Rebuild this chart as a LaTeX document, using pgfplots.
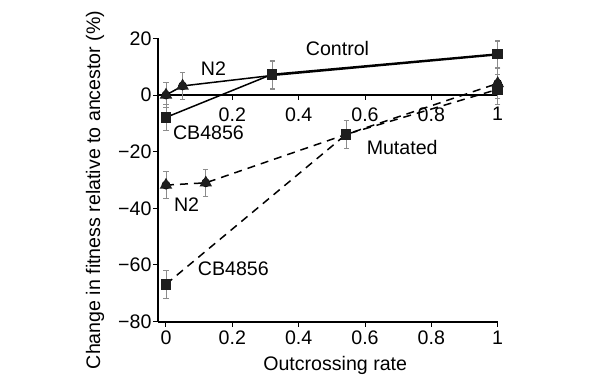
\documentclass[border=0pt]{standalone}
\usepackage{fontspec}
\setmainfont{Liberation Sans}
\usepackage{pgfplots}
\pgfplotsset{compat=1.18}
\definecolor{mk}{HTML}{1E1E1E}
\definecolor{eb}{HTML}{8C8C8C}
\begin{document}
\fontsize{9.8}{11}\selectfont
\begin{tikzpicture}
\useasboundingbox (-83pt,-142.5pt) rectangle (217pt,47.5pt);
\begin{axis}[
  at={(0,0)}, anchor=origin,
  x=165.85pt, y=1.4165pt,
  xmin=-0.024, xmax=1, ymin=-80, ymax=20,
  axis x line=bottom, axis y line=left,
  axis line style={-, line width=1pt},
  tick align=outside,
  xtick={0,0.2,0.4,0.6,0.8,1},
  xticklabels={0,0.2,0.4,0.6,0.8,1},
  ytick={-80,-60,-40,-20,0,20},
  yticklabels={−80,−60,−40,−20,0,20},
  major tick length=2.5pt,
  tick style={line width=0.5pt, black},
  tick label style={font=\fontsize{9.8}{11}\selectfont},
  yticklabel style={inner sep=0.6pt},
  xticklabel style={inner sep=2pt},
  clip=false,
  error bars/error bar style={eb, line width=0.4pt},
  error bars/error mark options={rotate=90, eb, mark size=1.3pt, line width=0.4pt},
]
% zero line with ticks
\draw[line width=1pt] (axis cs:-0.024,0) -- (axis cs:1,0);
\foreach \t in {0.2,0.4,0.6,0.8,1}{
  \edef\tmp{\noexpand\draw[line width=0.5pt] (axis cs:\t,0) -- ([yshift=-2.5pt]axis cs:\t,0);
  \noexpand\node[anchor=north, inner sep=0pt] at ([yshift=-6pt]axis cs:\t,0) {\t};}
  \tmp
}
% error bars
\addplot[only marks, mark=none, forget plot, error bars/.cd, y dir=both, y explicit]
  table[x=x, y=y, y error=e] {
x y e
0 0 4.5
0.05 3.2 4.7
0.32 6.9 4.9
1 14.2 4.7
0 -7.9 4.5
0.32 7.3 4.9
1 14.5 4.7
0 -31.8 4.8
0.12 -31.0 4.8
0.543 -13.9 4.8
1 4.1 5.2
0 -66.8 5
1 2.0 5.2
};
% Control N2
\addplot[black, line width=0.75pt, mark=triangle*, mark size=2.9pt, mark indices={1,2},
  mark options={fill=mk, draw=mk, solid}] table {
0 0
0.05 3.2
0.32 6.9
1 14.2
};
% Control CB4856
\addplot[black, line width=0.75pt, mark=square*, mark size=2.3pt,
  mark options={fill=mk, draw=mk, solid}] table {
0 -7.9
0.32 7.3
1 14.5
};
% Mutated N2
\addplot[black, line width=0.75pt, dash pattern=on 4pt off 3pt, mark=triangle*, mark size=2.9pt, mark indices={1,2,4},
  mark options={fill=mk, draw=mk, solid}] table {
0 -31.8
0.12 -31.0
0.543 -13.9
1 4.1
};
% Mutated CB4856
\addplot[black, line width=0.75pt, dash pattern=on 4pt off 3pt, mark=square*, mark size=2.3pt,
  mark options={fill=mk, draw=mk, solid}] table {
0 -66.8
0.543 -13.9
1 2.0
};
\node at (axis cs:0.517,16.5) {Control};
\node at (axis cs:0.143,9.4) {N2};
\node at (axis cs:0.128,-13.5) {CB4856};
\node at (axis cs:0.712,-18.6) {Mutated};
\node at (axis cs:0.062,-38.8) {N2};
\node at (axis cs:0.203,-61.2) {CB4856};
\node at (axis cs:0.51,-95.3) {Outcrossing rate};
\node[rotate=90] at (axis cs:-0.214,-33.5) {Change in fitness relative to ancestor (\%)};
\end{axis}
\end{tikzpicture}
\end{document}
